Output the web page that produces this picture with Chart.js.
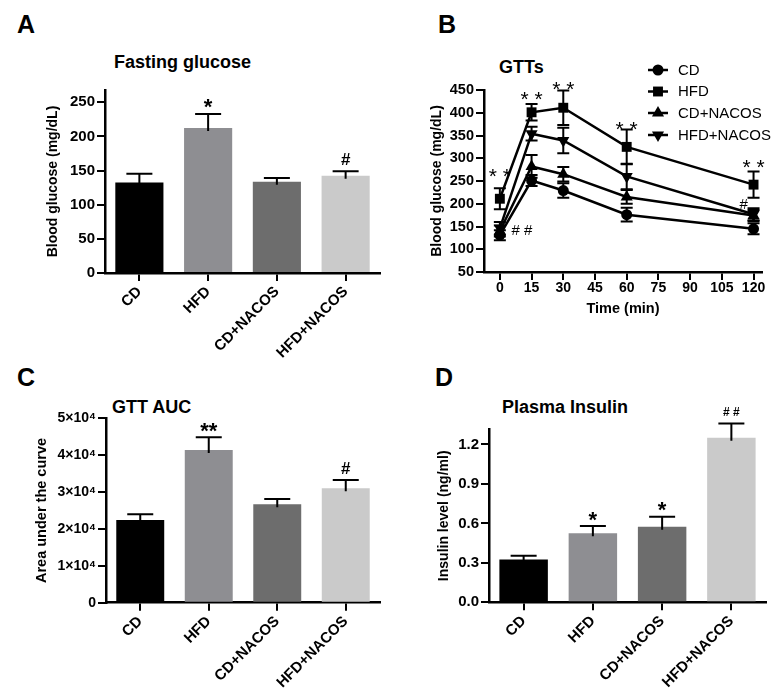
<!DOCTYPE html>
<html><head><meta charset="utf-8">
<script src="https://cdn.jsdelivr.net/npm/chart.js@4.4.1/dist/chart.umd.min.js"></script>
<style>
html,body{margin:0;padding:0;background:#fff;}
body{width:774px;height:689px;overflow:hidden;position:relative;font-family:"Liberation Sans",Arial,sans-serif;}
canvas{position:absolute;}
.lbl{position:absolute;font-weight:bold;line-height:1;white-space:nowrap;color:#000;}
</style></head><body>
<div class="lbl" style="left:17px;top:12px;font-size:25px">A</div>
<div class="lbl" style="left:438px;top:12px;font-size:25px">B</div>
<div class="lbl" style="left:17px;top:365px;font-size:25px">C</div>
<div class="lbl" style="left:435px;top:365px;font-size:25px">D</div>
<div class="lbl" style="left:114px;top:53px;font-size:18px">Fasting glucose</div>
<div class="lbl" style="left:499px;top:58px;font-size:18px">GTTs</div>
<div class="lbl" style="left:112px;top:398px;font-size:18px">GTT AUC</div>
<div class="lbl" style="left:502px;top:398px;font-size:18px">Plasma Insulin</div>
<canvas id="cA" width="390" height="360" style="left:0;top:0"></canvas>
<canvas id="cB" width="384" height="340" style="left:390px;top:0"></canvas>
<canvas id="cC" width="390" height="349" style="left:0;top:340px"></canvas>
<canvas id="cD" width="384" height="349" style="left:390px;top:340px"></canvas>
<script>
// ---------- data ----------
const groups = ['CD', 'HFD', 'CD+NACOS', 'HFD+NACOS'];
const barColors = ['#000000', '#8e8e92', '#6d6d6d', '#cacaca'];

// A: fasting glucose
const fastingMean = [132.5, 212.5, 133.5, 142.5];
const fastingSem = [13, 20.5, 5.5, 6.5];
const fastingSig = ['', '*', '', '#'];
const fastingTicks = [0, 50, 100, 150, 200, 250];

// B: GTT time course
const timePoints = [0, 15, 30, 60, 120];
const timeTicks = [0, 15, 30, 45, 60, 75, 90, 105, 120];
const gttTicks = [50, 100, 150, 200, 250, 300, 350, 400, 450];
const gttCD = [131, 251, 229, 176, 145];
const gttCDsem = [11, 12, 16, 15, 12];
const gttHFD = [211, 401, 411, 325, 242];
const gttHFDsem = [23, 18, 38, 38, 29];
const gttCDN = [140, 282, 265, 215, 174];
const gttCDNsem = [12, 25, 16, 15, 12];
const gttHFDN = [146, 354, 339, 260, 177];
const gttHFDNsem = [14, 15, 28, 28, 13];
const gttSigText = ['* *', '* *', '* *', '* *', '* *', '# #', '#'];
const gttSigTime = [0, 15, 30, 60, 120, 10.4, 115.3];
const gttSigValue = [271, 441, 464, 376, 291, 144, 200];

// C: GTT AUC
const aucMean = [22400, 41400, 26700, 31000];
const aucSem = [1550, 3450, 1450, 2250];
const aucSig = ['', '**', '', '#'];
const aucTicks = [0, 10000, 20000, 30000, 40000, 50000];

// D: plasma insulin
const insulinMean = [0.326, 0.524, 0.574, 1.25];
const insulinSem = [0.027, 0.056, 0.076, 0.11];
const insulinSig = ['', '*', '*', '##'];
const insulinTicks = [0, 0.3, 0.6, 0.9, 1.2];

// ---------- helpers ----------
const FONT = '"Liberation Sans", Arial, sans-serif';
Chart.defaults.font.family = FONT;
Chart.defaults.color = '#000';

function yAxis(o) {
  return {
    type: 'linear', min: o.min, max: o.max,
    afterBuildTicks: s => { s.ticks = o.ticks.map(v => ({ value: v })); },
    afterFit: s => { s.width = o.width; },
    ticks: { font: { family: FONT, size: o.tickSize || 15, weight: 'bold' }, color: '#000', padding: 2,
             callback: o.fmt || (v => String(v)) },
    grid: { display: true, drawOnChartArea: false, drawTicks: true, tickLength: 8, color: '#000', lineWidth: 2 },
    border: { display: true, color: '#000', width: 2.5 },
    title: { display: true, text: o.title, color: '#000',
             font: { family: FONT, size: o.titleSize || 14, weight: 'bold', lineHeight: 1.2 }, padding: { top: 4, bottom: 4 } }
  };
}
function xCat(height) {
  return {
    type: 'category', offset: true,
    afterFit: s => { s.height = height; },
    ticks: { font: { family: FONT, size: 15, weight: 'bold' }, color: '#000', minRotation: 45, maxRotation: 45, autoSkip: false, padding: 2 },
    grid: { display: true, offset: false, drawOnChartArea: false, drawTicks: true, tickLength: 8, color: '#000', lineWidth: 2 },
    border: { display: true, color: '#000', width: 2.5 }
  };
}
function drawSig(ctx, text, x, cy, weight) {
  let size, k, t = text;
  if (text.indexOf('*') >= 0) { size = 22; k = 0.57; }
  else if (text === '##') { size = 12; k = 0.36; t = '# #'; }
  else { size = 17; k = 0.36; }
  ctx.font = weight + ' ' + size + 'px ' + FONT;
  ctx.textAlign = 'center'; ctx.textBaseline = 'alphabetic'; ctx.fillStyle = '#000';
  ctx.fillText(t, x, cy + k * size);
}
function barExtras(means, sems, sigs) {
  return {
    id: 'barExtras',
    afterDatasetsDraw(chart) {
      const ctx = chart.ctx, y = chart.scales.y, meta = chart.getDatasetMeta(0);
      ctx.save();
      ctx.strokeStyle = '#000'; ctx.lineWidth = 2;
      meta.data.forEach((bar, i) => {
        const x = bar.x;
        const yt = y.getPixelForValue(means[i] + sems[i]);
        const yb = y.getPixelForValue(means[i]);
        ctx.beginPath();
        ctx.moveTo(x, yb + 3); ctx.lineTo(x, yt);
        ctx.moveTo(x - 13, yt); ctx.lineTo(x + 13, yt);
        ctx.stroke();
        if (sigs[i]) drawSig(ctx, sigs[i], x, yt - 12, 'bold');
      });
      ctx.restore();
    }
  };
}
function barChart(id, means, sems, sigs, yopts, layoutPad, xHeight) {
  new Chart(document.getElementById(id), {
    type: 'bar',
    data: { labels: groups, datasets: [{ data: means, backgroundColor: barColors, borderWidth: 0,
      barPercentage: 0.7, categoryPercentage: 1 }] },
    options: {
      responsive: false, animation: false, events: [],
      layout: { padding: layoutPad },
      plugins: { legend: { display: false }, tooltip: { enabled: false }, title: { display: false } },
      scales: { x: xCat(xHeight), y: yAxis(yopts) }
    },
    plugins: [barExtras(means, sems, sigs)]
  });
}

// ---------- A ----------
barChart('cA', fastingMean, fastingSem, fastingSig,
  { min: 0, max: 268, ticks: fastingTicks, width: 64.5, title: 'Blood glucose (mg/dL)' },
  { left: 40.5, top: 90, right: 10, bottom: 0 }, 87);

// ---------- C ----------
barChart('cC', aucMean, aucSem, aucSig,
  { min: 0, max: 50000, ticks: aucTicks, width: 76.4, title: 'Area under the curve', titleSize: 14.5, tickSize: 14,
    fmt: v => v === 0 ? '0' : (v / 10000) + '×10⁴' },
  { left: 29.6, top: 78.3, right: 10, bottom: 0 }, 86.3);

// ---------- D ----------
barChart('cD', insulinMean, insulinSem, insulinSig,
  { min: 0, max: 1.315, ticks: insulinTicks, width: 57, title: 'Insulin level (ng/ml)',
    fmt: v => v.toFixed(1) },
  { left: 42, top: 89.3, right: 8, bottom: 0 }, 86.7);

// ---------- B ----------
const seriesB = [
  { label: 'CD', mean: gttCD, sem: gttCDsem, style: 'circle', rot: 0, r: 5.5 },
  { label: 'HFD', mean: gttHFD, sem: gttHFDsem, style: 'rect', rot: 0, r: 7 },
  { label: 'CD+NACOS', mean: gttCDN, sem: gttCDNsem, style: 'triangle', rot: 0, r: 7 },
  { label: 'HFD+NACOS', mean: gttHFDN, sem: gttHFDNsem, style: 'triangle', rot: 180, r: 7 }
];
function marker(ctx, style, rot, r, x, y) {
  ctx.beginPath();
  if (style === 'circle') ctx.arc(x, y, r, 0, Math.PI * 2);
  else if (style === 'rect') { const s = r * Math.SQRT1_2; ctx.rect(x - s, y - s, 2 * s, 2 * s); }
  else {
    let a = rot * Math.PI / 180;
    ctx.moveTo(x + Math.sin(a) * r, y - Math.cos(a) * r);
    a += 2 * Math.PI / 3; ctx.lineTo(x + Math.sin(a) * r, y - Math.cos(a) * r);
    a += 2 * Math.PI / 3; ctx.lineTo(x + Math.sin(a) * r, y - Math.cos(a) * r);
    ctx.closePath();
  }
  ctx.fill();
}
const gttExtras = {
  id: 'gttExtras',
  afterDatasetsDraw(chart) {
    const ctx = chart.ctx, xs = chart.scales.x, ys = chart.scales.y;
    ctx.save();
    ctx.strokeStyle = '#000'; ctx.lineWidth = 2;
    seriesB.forEach(s => {
      timePoints.forEach((t, i) => {
        const x = xs.getPixelForValue(t);
        const y1 = ys.getPixelForValue(s.mean[i] + s.sem[i]);
        const y2 = ys.getPixelForValue(s.mean[i] - s.sem[i]);
        ctx.beginPath();
        ctx.moveTo(x, y1); ctx.lineTo(x, y2);
        ctx.moveTo(x - 6, y1); ctx.lineTo(x + 6, y1);
        ctx.moveTo(x - 6, y2); ctx.lineTo(x + 6, y2);
        ctx.stroke();
      });
    });
    // significance marks
    ctx.fillStyle = '#000'; ctx.textAlign = 'center'; ctx.textBaseline = 'alphabetic';
    gttSigText.forEach((txt, i) => {
      const x = xs.getPixelForValue(gttSigTime[i]);
      const cy = ys.getPixelForValue(gttSigValue[i]);
      const isStar = txt.indexOf('*') >= 0;
      const size = isStar ? 21 : 15;
      ctx.font = 'normal ' + size + 'px ' + FONT;
      ctx.fillText(txt, x, cy + (isStar ? 0.57 : 0.36) * size);
    });
    // legend
    const ly = [70, 91.5, 113, 135];
    ctx.font = 'normal 15px ' + FONT;
    ctx.textAlign = 'left'; ctx.textBaseline = 'middle';
    seriesB.forEach((s, i) => {
      ctx.lineWidth = 2.5;
      ctx.beginPath(); ctx.moveTo(258, ly[i]); ctx.lineTo(278, ly[i]); ctx.stroke();
      marker(ctx, s.style, s.rot, s.r, 268, ly[i]);
      ctx.fillText(s.label, 288, ly[i] + 0.5);
    });
    ctx.restore();
  }
};
new Chart(document.getElementById('cB'), {
  type: 'line',
  data: {
    datasets: seriesB.map(s => ({
      label: s.label,
      data: timePoints.map((t, i) => ({ x: t, y: s.mean[i] })),
      borderColor: '#000', borderWidth: 2.5, backgroundColor: '#000',
      pointStyle: s.style, pointRotation: s.rot, pointRadius: s.r, pointBorderWidth: 0,
      pointBackgroundColor: '#000', tension: 0, fill: false
    }))
  },
  options: {
    responsive: false, animation: false, events: [],
    layout: { padding: { left: 35, top: 90, right: 12, bottom: 18 } },
    plugins: { legend: { display: false }, tooltip: { enabled: false } },
    scales: {
      x: {
        type: 'linear', min: -7.5, max: 124,
        afterBuildTicks: s => { s.ticks = timeTicks.map(v => ({ value: v })); },
        afterFit: s => { s.height = 50; },
        ticks: { font: { family: FONT, size: 14, weight: 'bold' }, color: '#000', padding: 0, maxRotation: 0, autoSkip: false },
        grid: { display: true, drawOnChartArea: false, drawTicks: true, tickLength: 8, color: '#000', lineWidth: 2 },
        border: { display: true, color: '#000', width: 2.5 },
        title: { display: true, text: 'Time (min)', color: '#000',
                 font: { family: FONT, size: 14.5, weight: 'bold', lineHeight: 1.2 }, padding: { top: 4, bottom: 4 } }
      },
      y: yAxis({ min: 50, max: 450, ticks: gttTicks, width: 59, tickSize: 14.5, title: 'Blood glucose (mg/dL)' })
    }
  },
  plugins: [gttExtras]
});
</script>
</body></html>
